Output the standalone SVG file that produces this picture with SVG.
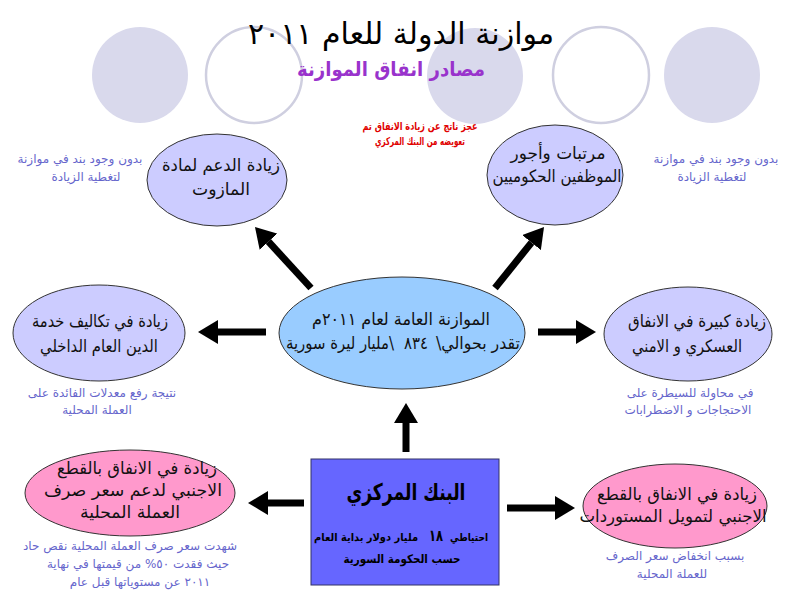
<svg xmlns="http://www.w3.org/2000/svg" width="800" height="602" viewBox="0 0 800 602">
<style>
text{font-family:"DejaVu Sans","Liberation Sans",sans-serif;text-anchor:middle}
.rtl{direction:rtl}
.node{font-size:17px;fill:#111}
.note{font-size:12px;fill:#6666cc}
.bank{font-weight:bold;fill:#000}
.lav{fill:#ccccff;stroke:#333;stroke-width:1}
.pink{fill:#ff99cc;stroke:#333;stroke-width:1}
.arr{stroke:#000;stroke-width:7;fill:none;marker-end:url(#ah)}
</style>
<defs>
<marker id="ah" markerUnits="userSpaceOnUse" markerWidth="20" markerHeight="24" viewBox="0 0 20 24" refX="0" refY="12" orient="auto"><path d="M0,0 L20,12 L0,24 z" fill="#000"/></marker>
</defs>
<rect width="800" height="602" fill="#fff"/>
<g id="decor">
<circle cx="140" cy="75" r="48" fill="#d9d9ec"/>
<circle cx="254" cy="75" r="48" fill="#fff" stroke="#cfcfe0" stroke-width="2.5"/>
<circle cx="475" cy="76" r="48" fill="#d9d9ec"/>
<circle cx="601" cy="75" r="48" fill="#fff" stroke="#cfcfe0" stroke-width="2.5"/>
<circle cx="712" cy="75" r="48" fill="#d9d9ec"/>
</g>
<g id="title">
<text x="401" y="44" font-size="30" fill="#000">موازنة الدولة للعام ٢٠١١</text>
<text x="391" y="76" font-size="20" font-weight="bold" fill="#9933cc" textLength="188" lengthAdjust="spacingAndGlyphs">مصادر انفاق الموازنة</text>
</g>
<g id="deficit-note">
<text x="420" y="130" font-size="11" font-weight="bold" fill="#e00000" textLength="115" lengthAdjust="spacingAndGlyphs">عجز ناتج عن زيادة الانفاق تم</text>
<text x="420" y="145" font-size="11" font-weight="bold" fill="#e00000" textLength="90" lengthAdjust="spacingAndGlyphs">تعويضه من البنك المركزي</text>
</g>
<g id="connectors">
<line class="arr" x1="311" y1="288" x2="268.5" y2="241.7"/>
<line class="arr" x1="495" y1="288" x2="531.5" y2="242.6"/>
<line class="arr" x1="266" y1="332" x2="218" y2="332"/>
<line class="arr" x1="538" y1="332" x2="576" y2="332"/>
<line class="arr" x1="406" y1="452" x2="406" y2="423"/>
<line class="arr" x1="304" y1="503" x2="268" y2="503"/>
<line class="arr" x1="507" y1="508" x2="555" y2="508"/>
</g>
<g id="node-budget">
<ellipse cx="402" cy="333" rx="123" ry="56" fill="#99ccff" stroke="#333" stroke-width="1"/>
<text class="node" x="401" y="325" textLength="178" lengthAdjust="spacingAndGlyphs">الموازنة العامة لعام ٢٠١١م</text>
<text class="node rtl" x="478" y="349" font-size="16" textLength="84" lengthAdjust="spacingAndGlyphs">تقدر بحوالي\</text>
<text class="node" x="416" y="349" font-size="14" fill="#9933cc" textLength="24" lengthAdjust="spacingAndGlyphs">٨٣٤</text>
<text class="node rtl" x="340" y="349" font-size="15" textLength="108" lengthAdjust="spacingAndGlyphs">\مليار ليرة سورية</text>
</g>
<g id="node-fuel">
<ellipse class="lav" cx="217" cy="180" rx="70" ry="46"/>
<text class="node" x="221" y="171" textLength="118" lengthAdjust="spacingAndGlyphs">زيادة الدعم لمادة</text>
<text class="node" x="221" y="195" textLength="58" lengthAdjust="spacingAndGlyphs">المازوت</text>
</g>
<g id="node-salaries">
<ellipse class="lav" cx="555" cy="175" rx="68" ry="50"/>
<text class="node" x="558" y="159" textLength="95" lengthAdjust="spacingAndGlyphs">مرتبات وأجور</text>
<text class="node" x="557" y="182" textLength="129" lengthAdjust="spacingAndGlyphs">الموظفين الحكوميين</text>
</g>
<g id="node-debt">
<ellipse class="lav" cx="99" cy="333" rx="86" ry="48"/>
<text class="node" x="100" y="327" textLength="136" lengthAdjust="spacingAndGlyphs">زيادة في تكاليف خدمة</text>
<text class="node" x="99" y="352" textLength="118" lengthAdjust="spacingAndGlyphs">الدين العام الداخلي</text>
</g>
<g id="node-military">
<ellipse class="lav" cx="688" cy="334" rx="84" ry="47"/>
<text class="node" x="697" y="327" textLength="138" lengthAdjust="spacingAndGlyphs">زيادة كبيرة في الانفاق</text>
<text class="node" x="687" y="352" textLength="110" lengthAdjust="spacingAndGlyphs">العسكري و الامني</text>
</g>
<g id="node-currency">
<ellipse class="pink" cx="130" cy="493" rx="105" ry="43"/>
<text class="node" x="137" y="474" textLength="160" lengthAdjust="spacingAndGlyphs">زيادة في الانفاق بالقطع</text>
<text class="node" x="133" y="496" textLength="178" lengthAdjust="spacingAndGlyphs">الاجنبي لدعم سعر صرف</text>
<text class="node" x="130" y="518" textLength="100" lengthAdjust="spacingAndGlyphs">العملة المحلية</text>
</g>
<g id="node-imports">
<ellipse class="pink" cx="675" cy="506" rx="92" ry="42"/>
<text class="node" x="677" y="500" textLength="160" lengthAdjust="spacingAndGlyphs">زيادة في الانفاق بالقطع</text>
<text class="node" x="673" y="522" textLength="187" lengthAdjust="spacingAndGlyphs">الاجنبي لتمويل المستوردات</text>
</g>
<g id="node-bank">
<rect x="311" y="459" width="188" height="126" fill="#6666ff" stroke="#333366" stroke-width="1"/>
<text class="bank" x="406" y="500" font-size="23" textLength="119" lengthAdjust="spacingAndGlyphs">البنك المركزي</text>
<text class="bank" x="469" y="541" font-size="11" textLength="38" lengthAdjust="spacingAndGlyphs">احتياطي</text>
<text class="bank" x="436" y="541" font-size="16" textLength="14" lengthAdjust="spacingAndGlyphs">١٨</text>
<text class="bank" x="366" y="541" font-size="11" textLength="104" lengthAdjust="spacingAndGlyphs">مليار دولار بداية العام</text>
<text class="bank" x="402" y="563" font-size="12" textLength="117" lengthAdjust="spacingAndGlyphs">حسب الحكومة السورية</text>
</g>
<g id="notes">
<text class="note" x="80" y="163">بدون وجود بند في موازنة</text>
<text class="note" x="86" y="181">لتغطية الزيادة</text>
<text class="note" x="716" y="163">بدون وجود بند في موازنة</text>
<text class="note" x="712" y="181">لتغطية الزيادة</text>
<text class="note" x="102" y="397">نتيجة رفع معدلات الفائدة على</text>
<text class="note" x="97" y="414">العملة المحلية</text>
<text class="note" x="690" y="397">في محاولة للسيطرة على</text>
<text class="note" x="688" y="414">الاحتجاجات و الاضطرابات</text>
<text class="note" x="130" y="550">شهدت سعر صرف العملة المحلية نقص حاد</text>
<text class="note" x="138" y="568">حيث فقدت ٥٠% من قيمتها في نهاية</text>
<text class="note" x="140" y="586">٢٠١١ عن مستوياتها قبل عام</text>
<text class="note" x="675" y="560">بسبب انخفاض سعر الصرف</text>
<text class="note" x="672" y="578">للعملة المحلية</text>
</g>
</svg>
